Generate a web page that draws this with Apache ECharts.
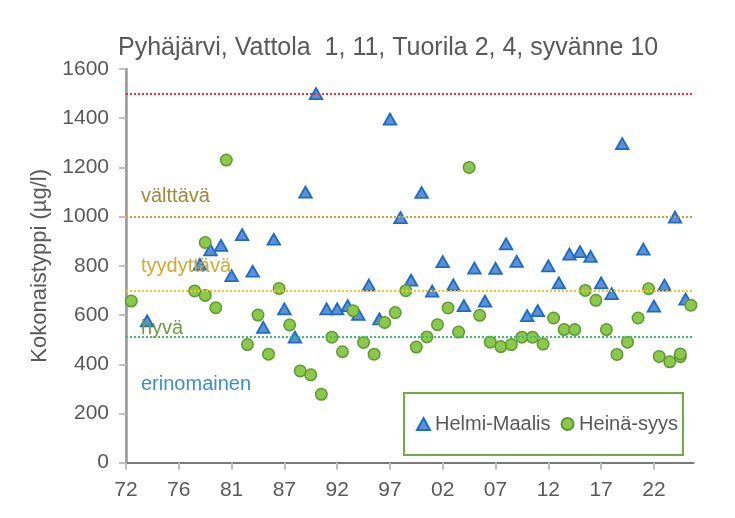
<!DOCTYPE html>
<html>
<head>
<meta charset="utf-8">
<script src="https://cdn.jsdelivr.net/npm/echarts@6/dist/echarts.min.js"></script>
<style>
html,body{margin:0;padding:0;background:#fff;}
#chart{width:735px;height:518px;}
</style>
</head>
<body>
<div id="chart"></div>
<script>
// Category index (sample order along the x axis) and values
const helmiX = [4,14,16,18,20,22,24,26,28,30,32,34,36,38,40,42,44,46,48,50,52,54,56,58,60,62,64,66,68,70,72,74,76,78,80,82,84,86,88,90,92,94,98,100,102,104,106];
const helmiY = [576,806,865,883,760,927,778,550,908,625,510,1100,1500,625,625,638,603,722,584,1396,996,742,1098,697,817,723,638,791,657,790,889,818,598,618,800,731,848,858,838,731,687,1297,868,636,722,998,665];
const heinaX = [1,13,15,15,17,19,23,25,27,29,31,33,35,37,39,41,43,45,47,49,51,53,55,57,59,61,63,65,67,69,71,73,75,77,79,81,83,85,87,89,91,93,95,97,99,101,103,105,105,107];
const heinaY = [657,698,895,680,630,1230,480,600,441,708,560,373,357,278,510,451,618,489,441,570,610,699,470,511,561,629,531,1200,599,490,472,480,510,510,482,588,541,541,700,660,541,440,490,588,707,432,410,431,442,640];
// X tick labels, one every 10 samples
const tickLabels = ['72','76','81','87','92','97','02','07','12','17','22'];
const tickStep = 10;
// Threshold lines
const thresholdValues = [1500, 1000, 700, 510];
const thresholdColors = ['#ff2a2a', '#c9a23a', '#ffc21a', '#33c46a'];
// Class names
const classNames = ['välttävä', 'tyydyttävä', 'hyvä', 'erinomainen'];
const classColors = ['#a3873a', '#d6a82c', '#6f9c3f', '#3a8dd6'];
const classBaselineY = [203, 273, 335, 391];

const FONT = '"Liberation Sans", Arial, sans-serif';
const tickValues = tickLabels.map((_, i) => i * tickStep);

const chart = echarts.init(document.getElementById('chart'), null, {renderer: 'canvas'});
const option = {
  animation: false,
  backgroundColor: '#ffffff',
  title: {
    text: 'Pyhäjärvi, Vattola  1, 11, Tuorila 2, 4, syvänne 10',
    left: 113, top: 31,
    textStyle: {fontFamily: FONT, fontSize: 25, fontWeight: 'normal', color: '#595959'}
  },
  grid: {left: 126, right: 41.5, top: 69, bottom: 55.3, containLabel: false},
  legend: {
    data: ['Helmi-Maalis', 'Heinä-syys'],
    left: 404, top: 393,
    padding: [21, 5, 21, 12],
    itemGap: 10, itemWidth: 13, itemHeight: 12,
    borderColor: '#70ad47', borderWidth: 2, backgroundColor: '#ffffff',
    textStyle: {fontFamily: FONT, fontSize: 20, color: '#595959'}
  },
  xAxis: [{
    type: 'value', min: 0, max: 107.5,
    splitLine: {show: false},
    axisLine: {show: true, onZero: false, lineStyle: {color: '#bfbfbf', width: 2}},
    axisTick: {show: true, customValues: tickValues, length: 7, lineStyle: {color: '#bfbfbf', width: 2}},
    axisLabel: {customValues: tickValues, margin: 17, fontFamily: FONT, fontSize: 21, color: '#595959',
      formatter: v => { const i = Math.round(v / tickStep); return tickLabels[i] !== undefined ? tickLabels[i] : ''; }}
  }, {
    type: 'value', min: 0, max: 107.5, position: 'top',
    axisLine: {show: true, lineStyle: {color: '#7a7a7a', width: 2}},
    axisTick: {show: false}, axisLabel: {show: false}, splitLine: {show: false}
  }],
  yAxis: [{
    type: 'value', min: 0, max: 1600, interval: 200,
    name: 'Kokonaistyppi (µg/l)', nameLocation: 'middle', nameGap: 66,
    nameTextStyle: {fontFamily: FONT, fontSize: 22, color: '#595959'},
    splitLine: {show: false},
    axisLine: {show: true, lineStyle: {color: '#bfbfbf', width: 2}},
    axisTick: {show: true, length: 7, lineStyle: {color: '#bfbfbf', width: 2}},
    axisLabel: {margin: 17, fontFamily: FONT, fontSize: 21, color: '#595959', formatter: v => String(v)}
  }, {
    type: 'value', min: 0, max: 1600, position: 'right',
    axisLine: {show: true, lineStyle: {color: '#9a9a9a', width: 2.5}},
    axisTick: {show: false}, axisLabel: {show: false}, splitLine: {show: false}
  }],
  series: [{
    name: 'Helmi-Maalis', type: 'scatter',
    symbol: 'triangle', symbolSize: [12.5, 11],
    itemStyle: {color: '#5f8fd6', borderColor: '#1b6ec2', borderWidth: 1.8, opacity: 1},
    data: helmiX.map((x, i) => [x, helmiY[i]]),
    markLine: {
      silent: true, symbol: 'none', label: {show: false},
      data: thresholdValues.map((v, i) => ({yAxis: v, lineStyle: {color: thresholdColors[i], width: 2, type: [2, 2]}}))
    },
    z: 3
  }, {
    name: 'Heinä-syys', type: 'scatter',
    symbol: 'circle', symbolSize: 11.5,
    itemStyle: {color: '#8cc84b', borderColor: '#5d9a30', borderWidth: 1.5, opacity: 1},
    data: heinaX.map((x, i) => [x, heinaY[i]]),
    z: 4
  }],
  graphic: classNames.map((t, i) => ({
    type: 'text', left: 141, top: classBaselineY[i] - 17, z: 100,
    style: {text: t, fill: classColors[i], font: '20px ' + FONT}
  }))
};
chart.setOption(option);
</script>
</body>
</html>
